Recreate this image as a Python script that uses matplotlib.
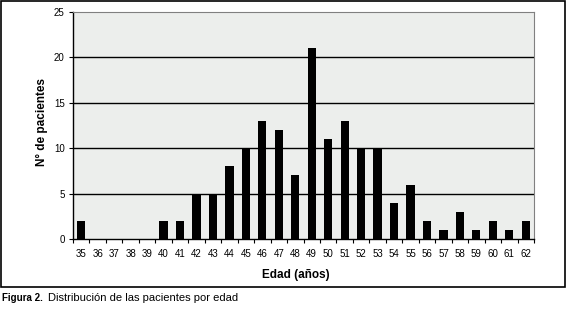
import numpy as np
import matplotlib
matplotlib.use("Agg")
import matplotlib.pyplot as plt
from matplotlib.patches import Rectangle

edades = list(range(35, 63))
pacientes = [2, 0, 0, 0, 0, 2, 2, 5, 5, 8, 10, 13, 12, 7, 21, 11, 13, 10, 10,
             4, 6, 2, 1, 3, 1, 2, 1, 2]
y_ticks = [0, 5, 10, 15, 20, 25]

plt.rcParams["font.family"] = ["Liberation Sans", "DejaVu Sans"]

W, H = 567, 309
fig = plt.figure(figsize=(W / 100, H / 100), dpi=100)
fig.patch.set_facecolor("white")

# outer frame around chart
fig.patches.append(Rectangle((1 / W, 1 - 287 / H), 564 / W, 286 / H, transform=fig.transFigure,
                             fill=False, ec="black", lw=1.2))

ax = fig.add_axes([73 / W, 1 - 239 / H, (534 - 73) / W, (239 - 12) / H])
ax.set_facecolor("#eceeec")
x = np.arange(len(edades))
ax.bar(x, pacientes, width=0.5, color="black", zorder=3)
ax.set_xlim(-0.5, len(edades) - 0.5)
ax.set_ylim(0, 25)
ax.set_yticks(y_ticks)
for v in y_ticks[1:-1]:
    ax.axhline(v, color="black", lw=1, zorder=2)
ax.set_xticks(np.arange(-0.5, len(edades), 1))
ax.set_xticklabels([])
ax.set_xticks(x, minor=True)
ax.set_xticklabels([str(e) for e in edades], minor=True)
ax.tick_params(axis="x", which="major", length=3, width=0.8, direction="out")
ax.tick_params(axis="x", which="minor", length=0, pad=7, labelsize=7)
ax.tick_params(axis="y", length=3, width=0.8, labelsize=7, pad=3)
for s in ["top", "right"]:
    ax.spines[s].set_color("#808080")
for s in ["left", "bottom"]:
    ax.spines[s].set_color("black")
    ax.spines[s].set_linewidth(1)

fig.text(296 / W, 1 - 275 / H, "Edad (años)", ha="center", va="center", fontsize=8.5, fontweight="bold")
fig.text(42 / W, 1 - 122 / H, "N° de pacientes", ha="center", va="center", rotation=90,
         fontsize=8.5, fontweight="bold")
fig.text(2 / W, 1 - 298 / H, "Figura 2.", ha="left", va="center", fontsize=7, fontweight="bold")
fig.text(48 / W, 1 - 298 / H, "Distribución de las pacientes por edad", ha="left", va="center", fontsize=8)

fig.savefig("out.png", dpi=100)
